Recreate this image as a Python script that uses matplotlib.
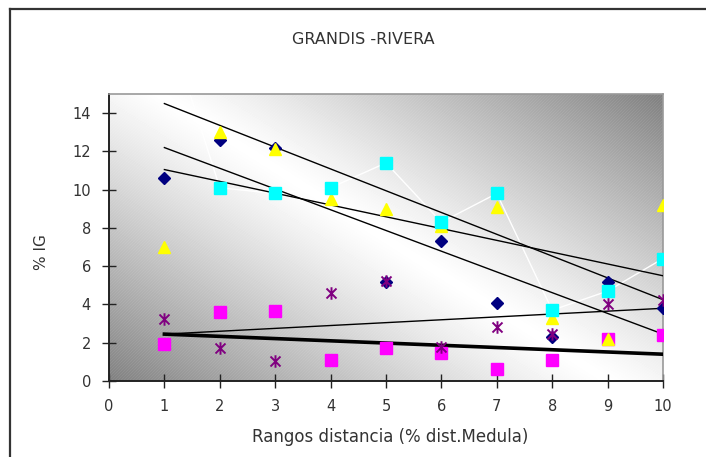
import numpy as np
import matplotlib
matplotlib.use("Agg")
import matplotlib.pyplot as plt
from matplotlib.path import Path
from matplotlib.lines import Line2D

# --- Data ---
x = [1, 2, 3, 4, 5, 6, 7, 8, 9, 10]
ig_diamond = [10.6, 12.6, 12.2, 10.1, 5.2, 7.3, 4.1, 2.3, 5.2, 3.8]
ig_square_mag = [1.95, 3.6, 3.65, 1.1, 1.7, 1.45, 0.65, 1.1, 2.2, 2.4]
ig_triangle = [7.0, 13.0, 12.1, 9.5, 9.0, 8.1, 9.1, 3.3, 2.2, 9.2]
ig_square_cyan = [19.2, 10.1, 9.8, 10.1, 11.4, 8.3, 9.8, 3.7, 4.7, 6.4]
ig_star = [3.25, 1.7, 1.05, 4.6, 5.25, 1.8, 2.8, 2.45, 4.0, 4.25]

# trend lines (value at x=1 and x=10)
trend_x = [1, 10]
trend_a = [14.5, 4.25]
trend_b = [12.2, 2.45]
trend_c = [11.05, 5.5]
trend_d = [2.45, 3.8]
trend_e = [2.45, 1.4]

yticks = [0, 2, 4, 6, 8, 10, 12, 14]
xticks = [0, 1, 2, 3, 4, 5, 6, 7, 8, 9, 10]

# asterisk marker: vertical bar + X
star = Path([(0, -1), (0, 1), (-0.8, -0.8), (0.8, 0.8), (-0.8, 0.8), (0.8, -0.8)],
            [Path.MOVETO, Path.LINETO, Path.MOVETO, Path.LINETO, Path.MOVETO, Path.LINETO])


def background(w=554, h=287):
    # diagonal gradient: white band from top-left to bottom-right, gray corners
    px, py = np.meshgrid(np.arange(w), np.arange(h))
    d = ((px - 50) * 287 - py * 450) / 533.7
    val = 1 - 0.5 * (np.abs(d) / 270) ** 1.15
    stripes = ((px + py) % 3 == 0) * 0.035 * (1 - val) * 2
    val = np.clip(val + stripes, 0, 1)
    return val


def main():
    fig = plt.figure(figsize=(7.06, 4.57), dpi=100)
    ax = fig.add_axes([109 / 706, 1 - 381 / 457, 554 / 706, 287 / 457])

    ax.set_xlim(0, 10)
    ax.set_ylim(0, 15)
    ax.imshow(background(), cmap="gray", vmin=0, vmax=1, extent=[0, 10, 0, 15],
              aspect="auto", zorder=0, interpolation="nearest")

    # white line through cyan points
    ax.plot(x, ig_square_cyan, color="white", linewidth=1, zorder=2)

    # trend lines
    for t in (trend_a, trend_b, trend_c, trend_d):
        ax.plot(trend_x, t, color="black", linewidth=1, zorder=3)
    ax.plot(trend_x, trend_e, color="black", linewidth=2.6, zorder=3)

    ax.plot(x, ig_diamond, linestyle="none", marker="D", markersize=6.5,
            color="#000080", zorder=4)
    ax.plot(x, ig_square_mag, linestyle="none", marker="s", markersize=8,
            color="#FF00FF", zorder=5)
    ax.plot(x, ig_triangle, linestyle="none", marker="^", markersize=9,
            color="#FFFF00", zorder=6)
    ax.plot(x, ig_square_cyan, linestyle="none", marker="s", markersize=8,
            color="#00FFFF", zorder=7)
    ax.plot(x, ig_star, linestyle="none", marker=star, markersize=9,
            color="#800080", markeredgewidth=1.4, zorder=8)

    ax.set_xticks(xticks)
    ax.set_yticks(yticks)
    ax.tick_params(direction="inout", length=10, width=1, colors="#222222",
                   labelsize=10.5, pad=8)
    for lab in ax.get_xticklabels() + ax.get_yticklabels():
        lab.set_color("#333333")

    for s in ("left", "bottom"):
        ax.spines[s].set_color("#222222")
        ax.spines[s].set_linewidth(1.4)
    for s in ("top", "right"):
        ax.spines[s].set_color("#999999")
        ax.spines[s].set_linewidth(1.2)

    fig.text(363 / 706, 1 - 40 / 457, "GRANDIS -RIVERA", ha="center", va="center",
             fontsize=11.5, color="#333333")
    fig.text(390 / 706, 1 - 437 / 457, "Rangos distancia (% dist.Medula)",
             ha="center", va="center", fontsize=12, color="#333333")
    fig.text(42 / 706, 1 - 252 / 457, "% IG", ha="center", va="center",
             rotation=90, fontsize=11, color="#333333")

    # outer chart border (top and left)
    fig.add_artist(Line2D([10 / 706, 1.01], [1 - 9 / 457, 1 - 9 / 457],
                          transform=fig.transFigure, color="#333333", linewidth=1.6))
    fig.add_artist(Line2D([10 / 706, 10 / 706], [-0.01, 1 - 9 / 457],
                          transform=fig.transFigure, color="#333333", linewidth=1.6))

    fig.savefig("out.png", dpi=100)


if __name__ == "__main__":
    main()
